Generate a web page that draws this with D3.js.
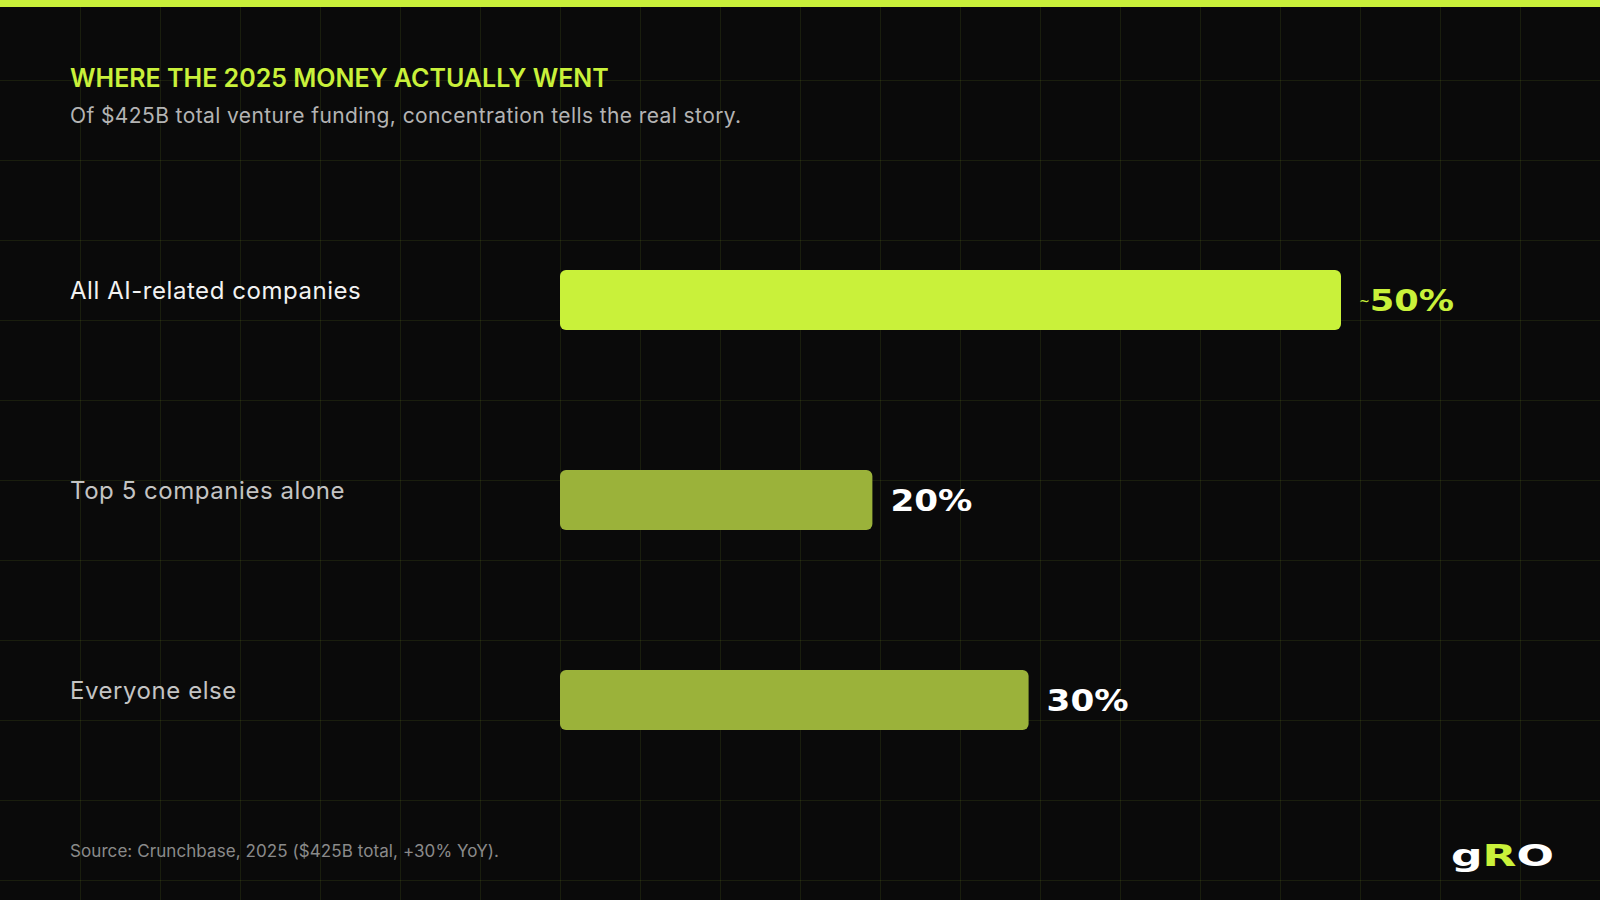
<!DOCTYPE html>
<html>
<head>
<meta charset="utf-8">
<script src="https://cdn.jsdelivr.net/npm/d3@7"></script>
<style>
  html, body { margin: 0; padding: 0; background: #0a0a0a; }
  svg { display: block; }
</style>
</head>
<body>
<div id="chart"></div>
<script>
// ---- data ----
const categories = ["All AI-related companies", "Top 5 companies alone", "Everyone else"];
const shares = [50, 20, 30];
const valueLabels = ["~50%", "20%", "30%"];
const titleText = "WHERE THE 2025 MONEY ACTUALLY WENT";
const subtitleText = "Of $425B total venture funding, concentration tells the real story.";
const sourceText = "Source: Crunchbase, 2025 ($425B total, +30% YoY).";
const logoParts = ["g", "R", "O"];

// ---- setup ----
const W = 1600, H = 900;
const LIME = "#c9f13a", OLIVE = "#9bb23a";
const FONT = "Inter, 'DejaVu Sans', sans-serif";
const WIDE = "'DejaVu Sans', sans-serif";

const svg = d3.select("#chart").append("svg").attr("width", W).attr("height", H);
svg.append("rect").attr("width", W).attr("height", H).attr("fill", "#0a0a0a");

// background grid
const gridX = d3.range(80, W, 80), gridY = d3.range(80, H, 80);
const grid = svg.append("g").attr("stroke", "rgba(190,230,60,0.09)").attr("stroke-width", 1);
grid.selectAll("line.v").data(gridX).join("line").attr("class", "v")
  .attr("x1", d => d + 0.5).attr("x2", d => d + 0.5).attr("y1", 0).attr("y2", H);
grid.selectAll("line.h").data(gridY).join("line").attr("class", "h")
  .attr("y1", d => d + 0.5).attr("y2", d => d + 0.5).attr("x1", 0).attr("x2", W);

// top accent bar
svg.append("rect").attr("x", 0).attr("y", 0).attr("width", W).attr("height", 7).attr("fill", LIME);

// title & subtitle
svg.append("text").attr("x", 70).attr("y", 87).attr("fill", LIME)
  .attr("font-family", FONT).attr("font-weight", 600).attr("font-size", 25)
  .text(titleText);
svg.append("text").attr("x", 70).attr("y", 123).attr("fill", "#b4b4b4")
  .attr("font-family", FONT).attr("font-weight", 400).attr("font-size", 21)
  .attr("letter-spacing", 0.4)
  .text(subtitleText);

// scales
const x = d3.scaleLinear().domain([0, 50]).range([560, 1341]);
const y = d3.scaleBand().domain(categories).range([200, 800]).paddingInner(0.7).paddingOuter(0.35);

// category labels
svg.append("g").selectAll("text").data(categories).join("text")
  .attr("x", 70).attr("y", d => y(d) + y.bandwidth() / 2 - 1)
  .attr("fill", (d, i) => i === 0 ? "#f2f2f2" : "#c4c4c4")
  .attr("font-family", FONT).attr("font-size", 24).attr("letter-spacing", 0.55)
  .text(d => d);

// bars
svg.append("g").selectAll("rect").data(categories).join("rect")
  .attr("x", x(0)).attr("y", d => y(d))
  .attr("width", (d, i) => x(shares[i]) - x(0)).attr("height", y.bandwidth())
  .attr("rx", 6).attr("ry", 6)
  .attr("fill", (d, i) => i === 0 ? LIME : OLIVE);

// value labels (wide display style)
const vl = svg.append("g").selectAll("text").data(categories).join("text")
  .attr("x", (d, i) => x(shares[i]) + 18)
  .attr("y", d => y(d) + y.bandwidth() / 2 + 11)
  .attr("fill", (d, i) => i === 0 ? LIME : "#ffffff")
  .attr("font-family", WIDE).attr("font-weight", 700).attr("font-size", 30)
  .attr("textLength", (d, i) => i === 0 ? 95 : 82)
  .attr("lengthAdjust", "spacingAndGlyphs");
vl.each(function(d, i) {
  const t = d3.select(this);
  const lbl = valueLabels[i];
  if (lbl.startsWith("~")) {
    t.append("tspan").attr("font-size", 11).attr("dy", -6).text("~");
    t.append("tspan").attr("dy", 6).text(lbl.slice(1));
  } else {
    t.text(lbl);
  }
});

// source
svg.append("text").attr("x", 70).attr("y", 857).attr("fill", "#8a8a8a")
  .attr("font-family", FONT).attr("font-size", 17).attr("letter-spacing", 0.08)
  .text(sourceText);

// logo
const logo = svg.append("text").attr("x", 1451).attr("y", 866)
  .attr("font-family", WIDE).attr("font-weight", 800).attr("font-size", 30)
  .attr("textLength", 103).attr("lengthAdjust", "spacingAndGlyphs");
logo.selectAll("tspan").data(logoParts).join("tspan")
  .attr("fill", (d, i) => i === 1 ? LIME : "#ffffff").text(d => d);
</script>
</body>
</html>
